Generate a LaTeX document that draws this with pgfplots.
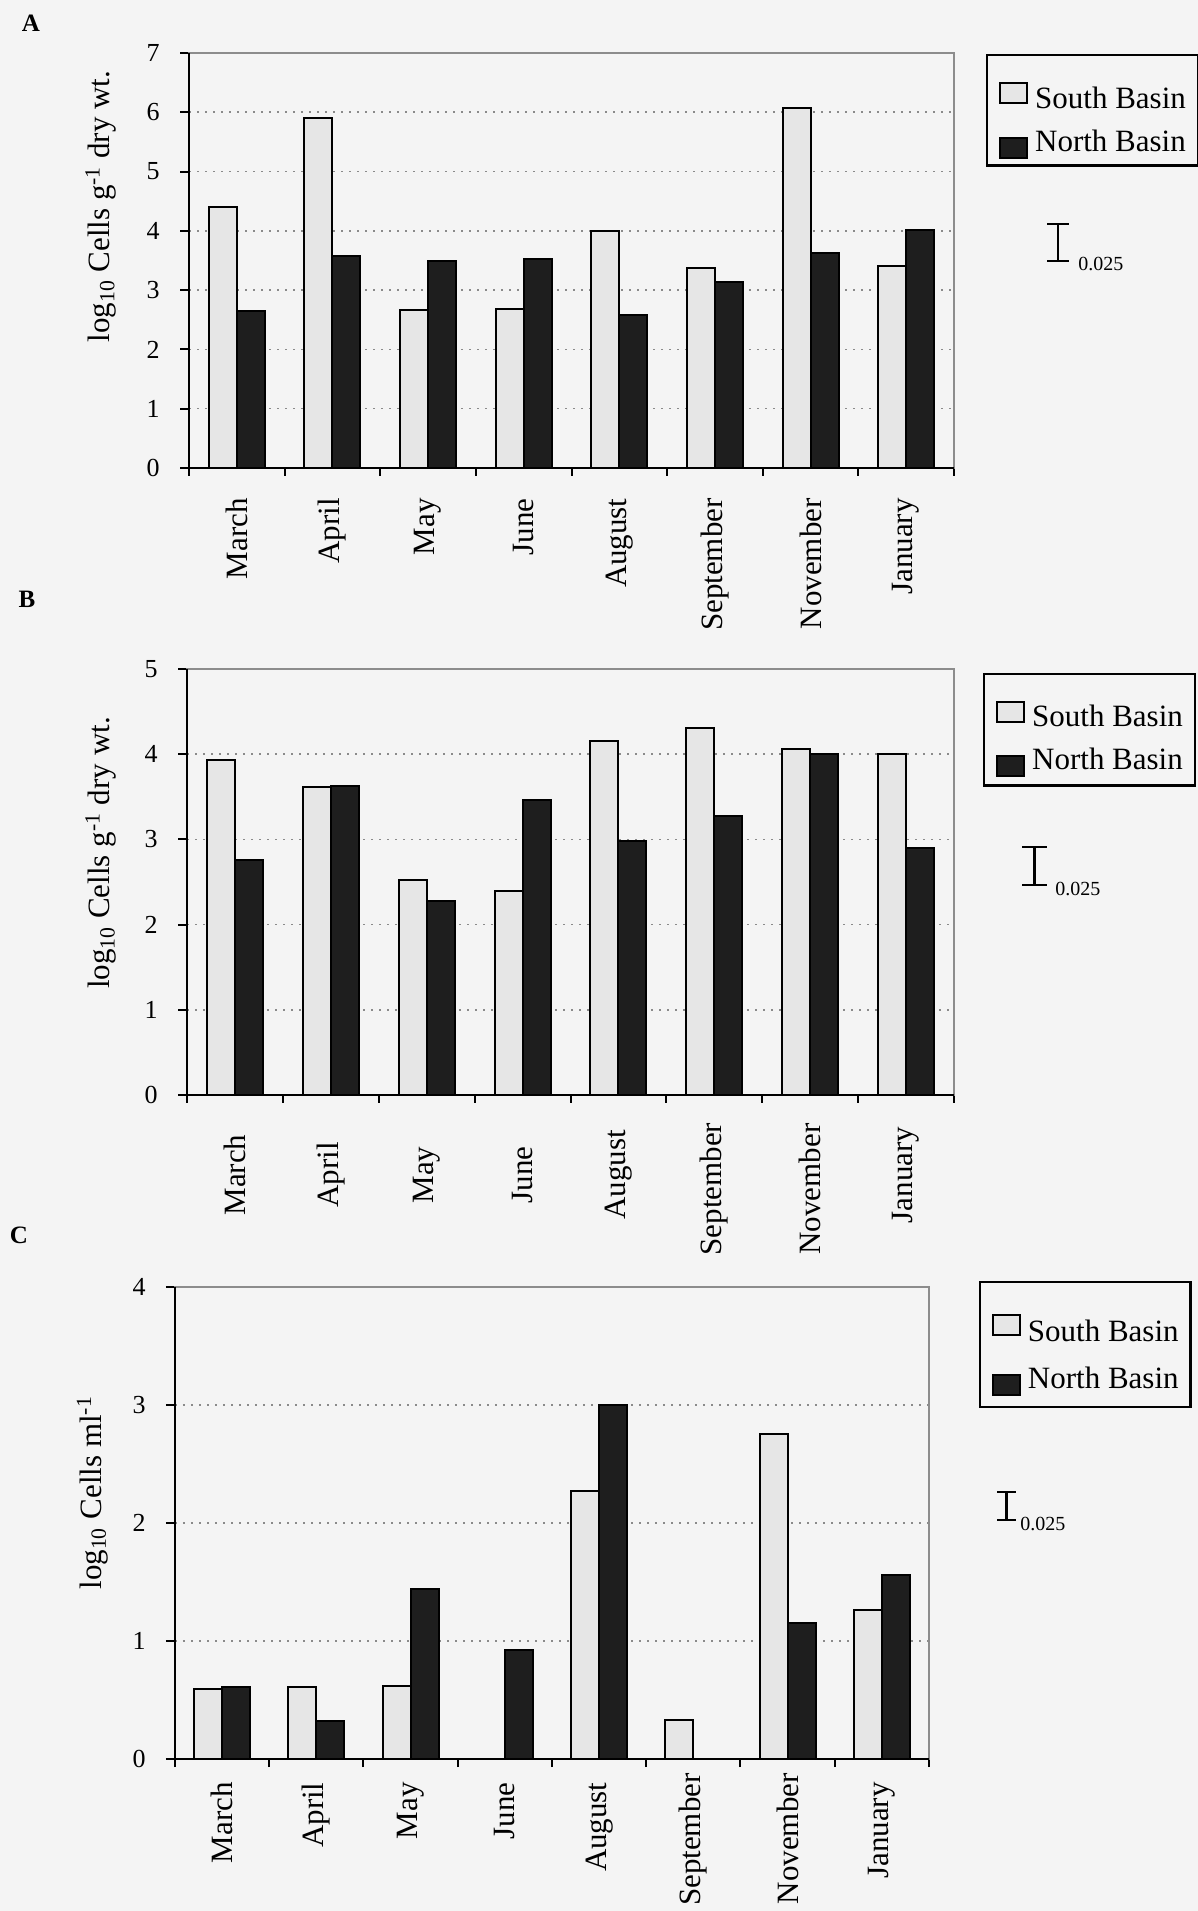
\documentclass[border=0pt]{standalone}
\usepackage{fontspec}
\setmainfont{Liberation Serif}
\usepackage{pgfplots}
\pgfplotsset{compat=1.18}

\definecolor{southfill}{HTML}{E6E6E6}
\definecolor{northfill}{HTML}{1E1E1E}
\definecolor{gridc}{HTML}{8A8A8A}
\definecolor{boxc}{HTML}{8C8C8C}
\definecolor{pagebg}{HTML}{F4F4F4}

\pgfplotsset{
  legS/.style={legend image code/.code={\draw[fill=southfill, draw=black, line width=1pt] (0pt,-8pt) rectangle (13.5pt,2pt); \path (17pt,0pt);}},
  legN/.style={legend image code/.code={\draw[fill=northfill, draw=black, line width=1pt] (0pt,-8pt) rectangle (13.5pt,2pt); \path (17pt,0pt);}},
  southbar/.style={fill=southfill, draw=black, line width=1pt, bar shift=-7pt, legS},
  northbar/.style={fill=northfill, draw=black, line width=1pt, bar shift=7pt, legN},
  panel/.style={
    scale only axis,
    anchor=south west,
    xmin=-0.5, xmax=7.5, ymin=0,
    xtick={0,...,7},
    xticklabels={March,April,May,June,August,September,November,January},
    minor xtick={-0.5,0.5,...,7.5},
    major x tick style={draw=none},
    tick align=outside,
    xtick pos=bottom, ytick pos=left,
    major tick length=4.5pt,
    minor tick length=4pt,
    tick style={black, line width=1pt},
    axis line style={draw=boxc, line width=0.6pt},
    ymajorgrids,
    major y grid style={draw=gridc, line width=0.8pt, dash pattern=on 0.8pt off 3.2pt},
    ybar, bar width=14pt,
    xticklabel style={rotate=90, anchor=east, inner sep=0pt, font=\fontsize{15.5}{18}\selectfont},
    yticklabel style={inner sep=0pt, font=\fontsize{13}{15}\selectfont},
    yticklabel shift=10pt,
    /pgf/number format/assume math mode=true,
    ylabel style={font=\fontsize{15.5}{18}\selectfont, anchor=base},
    clip=false,
    legend cell align=left,
    legend style={anchor=north west, draw=black, line width=1.2pt, fill=none,
      inner xsep=6pt, font=\fontsize{15.5}{18}\selectfont, nodes={inner sep=0pt}},
  }
}

\begin{document}
\begin{tikzpicture}
\path[use as bounding box, fill=pagebg] (0,0) rectangle (599pt,955.5pt);

% ---------------- Panel A
\begin{axis}[panel, at={(94.5pt,721.5pt)}, width=382.5pt, height=207.5pt,
  ymax=7, ytick={0,...,7}, xticklabel shift=10.5pt,
  ylabel={log\textsubscript{10} Cells g\textsuperscript{-1} dry wt.},
  ylabel style={at={(axis description cs:-0.1033,0.630)}},
  legend style={at={(axis description cs:1.0418,0.9976)}, inner ysep=3.5pt, row sep=9pt}]
\addplot[southbar] coordinates {(0,4.40) (1,5.91) (2,2.67) (3,2.68) (4,3.99) (5,3.38) (6,6.07) (7,3.40)};
\addplot[northbar] coordinates {(0,2.65) (1,3.57) (2,3.49) (3,3.53) (4,2.58) (5,3.13) (6,3.62) (7,4.01)};
\legend{\rule{0pt}{23pt}South Basin,\rule{0pt}{11pt}North Basin}
\draw[black, line width=1.4pt] (rel axis cs:0,1) -- (rel axis cs:0,0) -- (rel axis cs:1,0);
\end{axis}

% ---------------- Panel B
\begin{axis}[panel, at={(93.5pt,408pt)}, width=383.5pt, height=213pt,
  ymax=5, ytick={0,...,5},
  xticklabels={March,April,May,June,August,September\hspace*{14pt},November\hspace*{14pt},January},
  xticklabel style={anchor=center}, xticklabel shift=35.5pt,
  ylabel={log\textsubscript{10} Cells g\textsuperscript{-1} dry wt.},
  ylabel style={at={(axis description cs:-0.1004,0.568)}},
  legend style={at={(axis description cs:1.0378,0.9906)}, inner ysep=4.5pt, row sep=9pt}]
\addplot[southbar] coordinates {(0,3.93) (1,3.62) (2,2.52) (3,2.40) (4,4.16) (5,4.31) (6,4.06) (7,4.00)};
\addplot[northbar] coordinates {(0,2.76) (1,3.63) (2,2.28) (3,3.46) (4,2.98) (5,3.28) (6,4.00) (7,2.90)};
\legend{\rule{0pt}{21.5pt}South Basin,\rule{0pt}{11pt}North Basin}
\draw[black, line width=1.4pt] (rel axis cs:0,1) -- (rel axis cs:0,0) -- (rel axis cs:1,0);
\end{axis}

% ---------------- Panel C
\begin{axis}[panel, at={(87.5pt,76pt)}, width=377pt, height=236pt,
  ymax=4, ytick={0,...,4}, xticklabel shift=7pt,
  xticklabels={March,April,May,June,August,September\hspace*{-4.5pt},November\hspace*{-4.5pt},January},
  ylabel={log\textsubscript{10} Cells ml\textsuperscript{-1}},
  ylabel style={at={(axis description cs:-0.0975,0.564)}},
  legend style={at={(axis description cs:1.066,1.0127)}, inner ysep=5.5pt, row sep=11pt}]
\addplot[southbar] coordinates {(0,0.59) (1,0.61) (2,0.62) (4,2.27) (5,0.33) (6,2.75) (7,1.26)};
\addplot[northbar] coordinates {(0,0.61) (1,0.32) (2,1.44) (3,0.92) (4,3.00) (6,1.15) (7,1.56)};
\legend{\rule{0pt}{24pt}South Basin,\rule{0pt}{11pt}North Basin}
\draw[black, line width=1.4pt] (rel axis cs:0,1) -- (rel axis cs:0,0) -- (rel axis cs:1,0);
\end{axis}

% panel letters
\node[font=\fontsize{12.5}{14}\bfseries\selectfont] at (15.5pt,943.75pt) {A};
\node[font=\fontsize{12.5}{14}\bfseries\selectfont] at (13.5pt,656pt) {B};
\node[font=\fontsize{12.5}{14}\bfseries\selectfont] at (9.5pt,338pt) {C};

% scale bars (0.025)
\draw[line width=1.2pt] (529pt,843.5pt) -- (529pt,825pt) (523.5pt,843.5pt) -- (534.5pt,843.5pt) (523.5pt,825pt) -- (534.5pt,825pt);
\node[anchor=base west, inner sep=0pt, font=\fontsize{10}{12}\selectfont] at (539pt,820pt) {0.025};
\draw[line width=1.2pt] (517.25pt,532pt) -- (517.25pt,513pt) (511pt,532pt) -- (523.5pt,532pt) (511pt,513pt) -- (523.5pt,513pt);
\node[anchor=base west, inner sep=0pt, font=\fontsize{10}{12}\selectfont] at (527.5pt,507.5pt) {0.025};
\draw[line width=1.2pt] (503.25pt,209.5pt) -- (503.25pt,195.5pt) (498.5pt,209.5pt) -- (508pt,209.5pt) (498.5pt,195.5pt) -- (508pt,195.5pt);
\node[anchor=base west, inner sep=0pt, font=\fontsize{10}{12}\selectfont] at (510pt,190pt) {0.025};
\end{tikzpicture}
\end{document}
